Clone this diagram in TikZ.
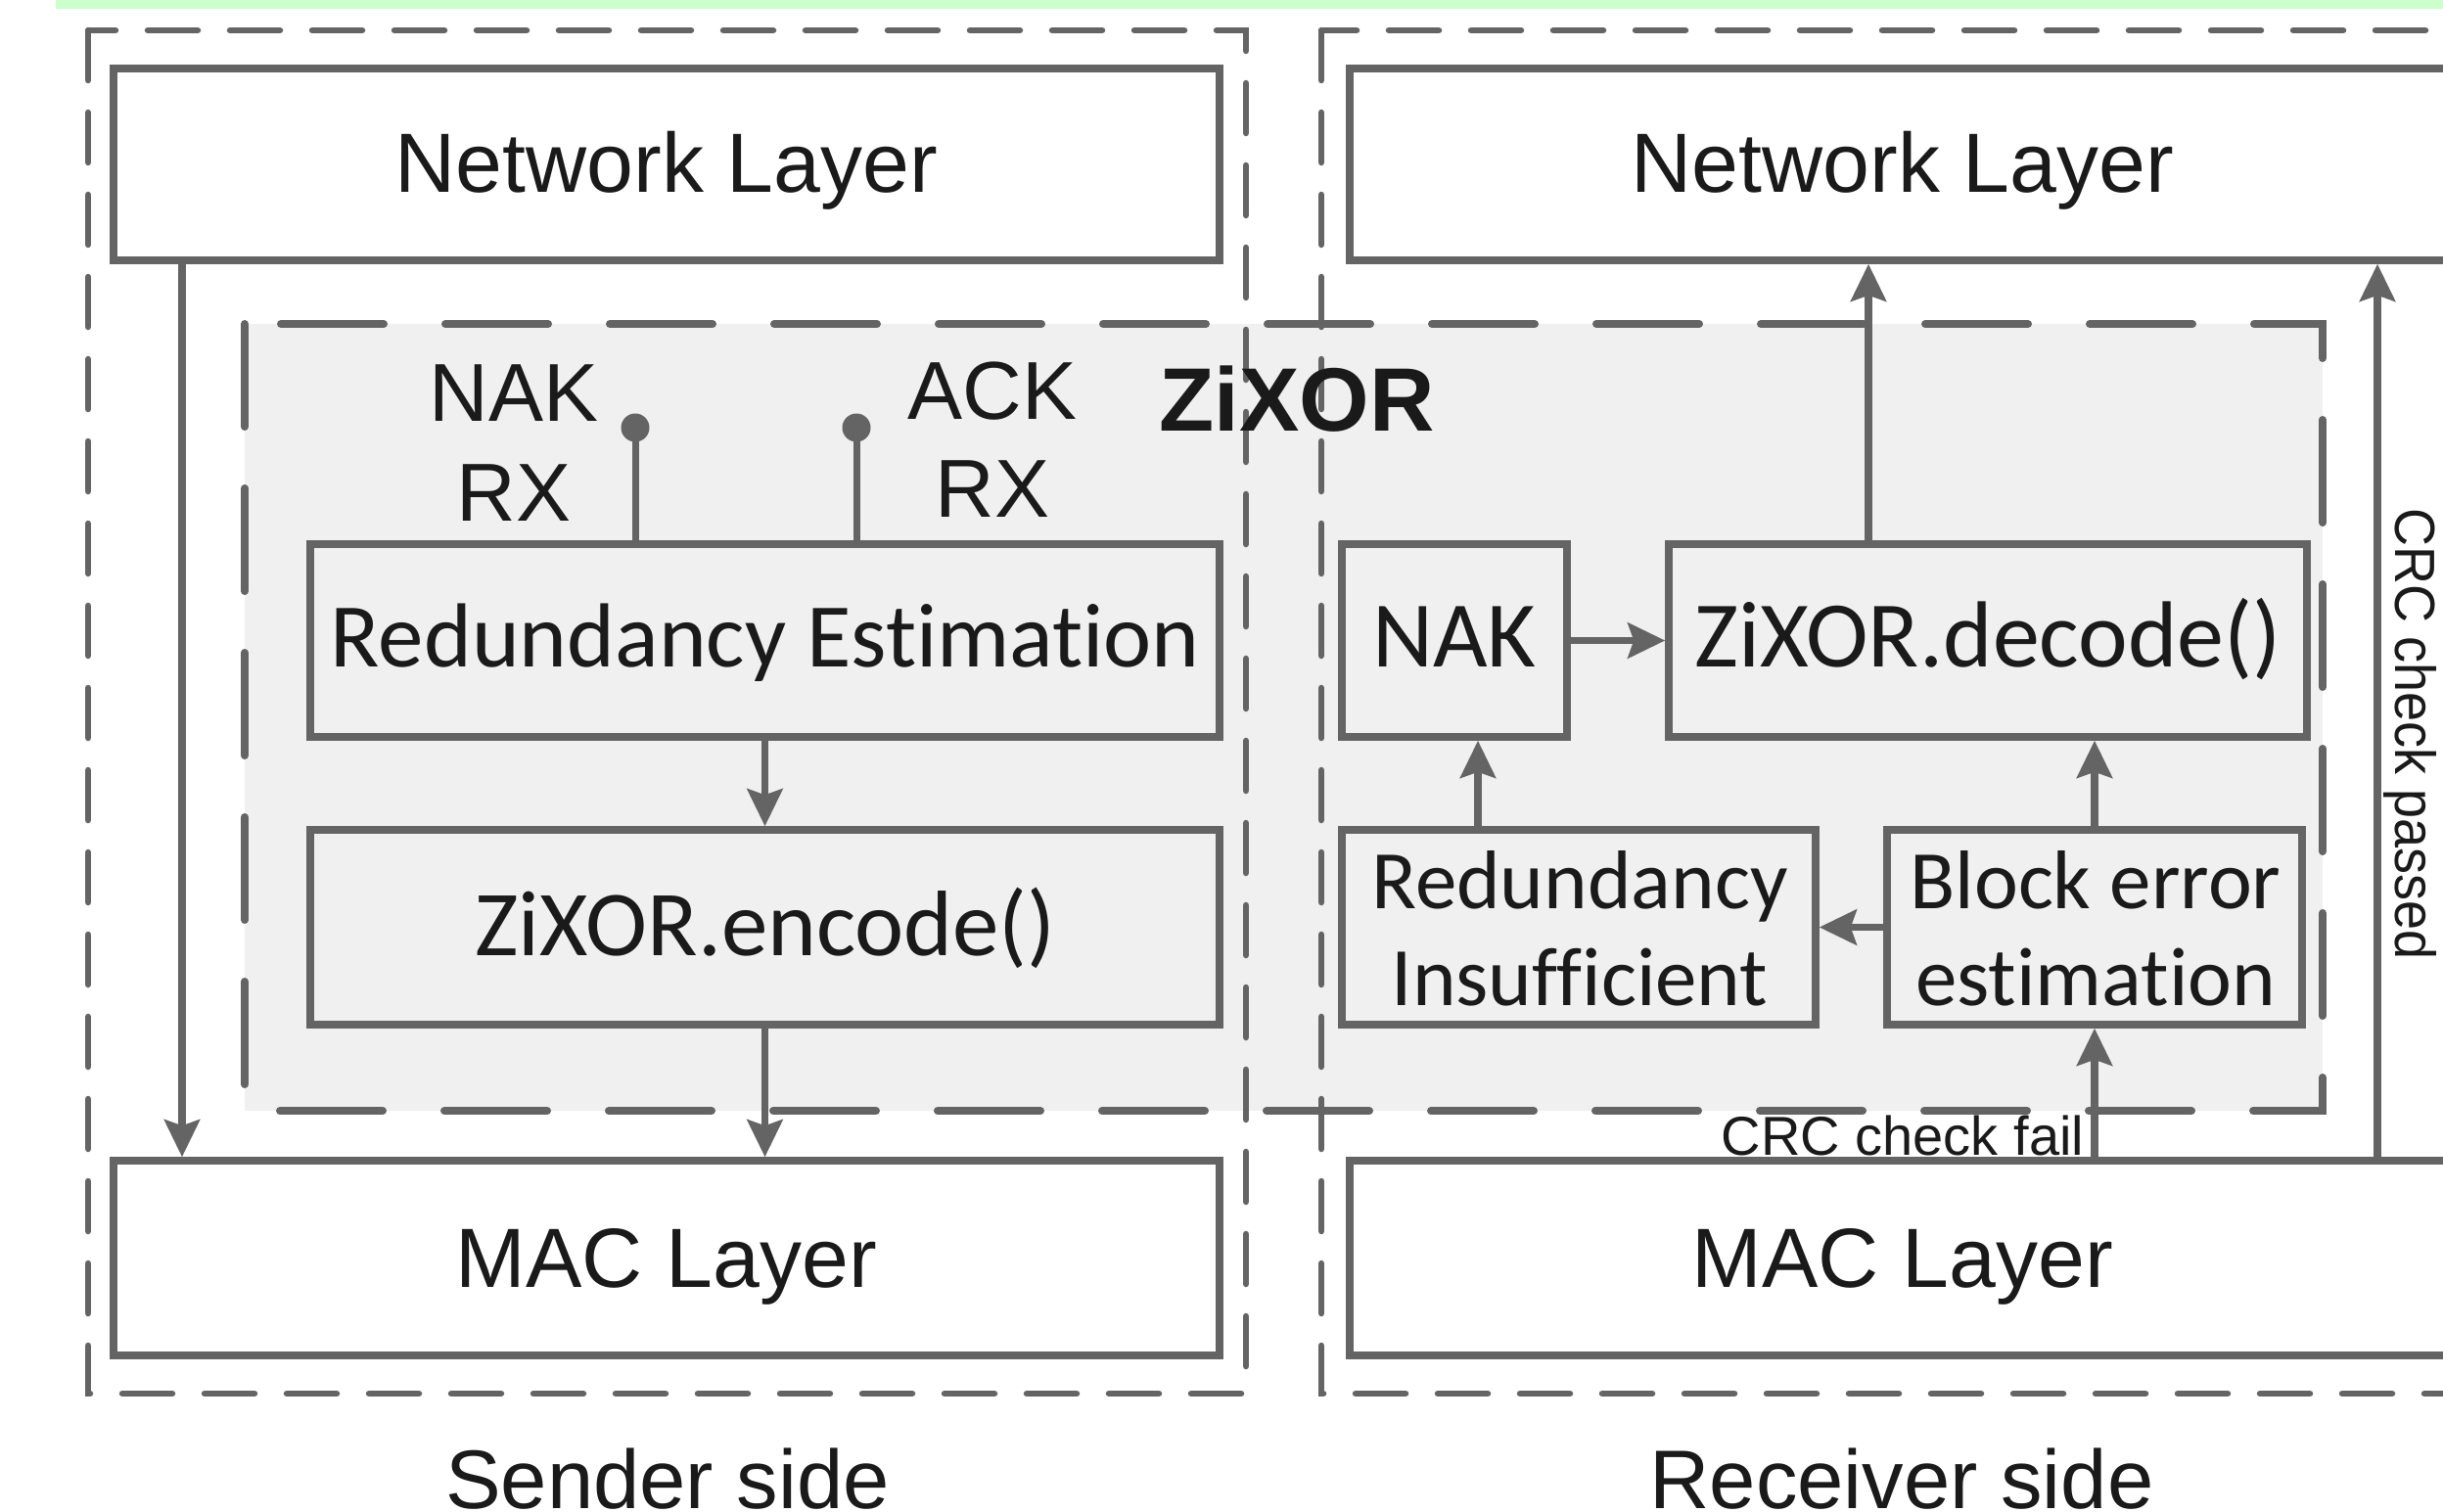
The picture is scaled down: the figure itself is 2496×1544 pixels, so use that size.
\documentclass[tikz,border=0pt]{standalone}
\usepackage{fontspec}
\setmainfont{Liberation Sans}
\newfontfamily\calib[Ligatures=NoCommon]{Carlito}
\usetikzlibrary{arrows.meta}
\definecolor{linec}{HTML}{646464}
\definecolor{regbg}{HTML}{F0F0F0}
\definecolor{grn}{HTML}{CCFFCC}
\definecolor{txt}{HTML}{1A1A1A}
\begin{document}
\begin{tikzpicture}[x=1pt,y=-1pt,
  layerbox/.style={draw=linec, line width=7.5pt, fill=white, minimum width=1130pt, minimum height=196pt, inner sep=0pt},
  procbox/.style={draw=linec, line width=7.5pt, fill=regbg, inner sep=0pt},
  outerdash/.style={draw=linec, line width=6.5pt, line cap=round, dash pattern=on 51pt off 33pt},
  regdash/.style={draw=linec, line width=8pt, line cap=round, dash pattern=on 105pt off 63pt, fill=regbg},
  lbl/.style={inner sep=0pt, text=txt, anchor=base},
  ar/.style={font=\fontsize{#1pt}{#1pt}\selectfont},
  cb/.style={font=\calib\fontsize{#1pt}{#1pt}\selectfont},
  arr/.style={draw=linec, line width=7.5pt, -{Stealth[length=38pt,width=36pt,inset=6pt]}},
  conn/.style={draw=linec, line width=7pt},
  dotn/.style={circle, fill=linec, minimum size=29pt, inner sep=0pt}
]
\useasboundingbox (0,0) rectangle (2496,1544);
\clip (0,0) rectangle (2496,1544);
\fill[white] (0,0) rectangle (2496,1544);
% green strip
\fill[grn] (57,0) rectangle (2496,9);

% ZiXOR region
\path[regdash] (250,331) rectangle (2373,1135);

% outer dashed sides
\draw[outerdash] (90,31) rectangle (1273,1424);
\draw[outerdash] (1350,31) rectangle (2537,1424);

% layer boxes
\node[layerbox] (netS) at (681,168) {};
\node[layerbox] (netR) at (1944,168) {};
\node[layerbox, minimum height=199pt] (macS) at (681,1285.5) {};
\node[layerbox, minimum height=199pt] (macR) at (1944,1285.5) {};

% sender process boxes
\node[procbox, minimum width=929pt, minimum height=197pt] (RE) at (781.5,654.5) {};
\node[procbox, minimum width=929pt, minimum height=199pt] (enc) at (781.5,947.5) {};

% receiver process boxes
\node[procbox, minimum width=230pt, minimum height=197pt] (nak) at (1486,654.5) {};
\node[procbox, minimum width=652pt, minimum height=197pt] (dec) at (2031,654.5) {};
\node[procbox, minimum width=484pt, minimum height=199pt] (RI) at (1613,947.5) {};
\node[procbox, minimum width=424pt, minimum height=199pt] (BE) at (2140,947.5) {};

% texts
\node[lbl, ar=86] (tNetS) at (681,196) {Network Layer};
\node[lbl, ar=86] (tNetR) at (1944,196) {Network Layer};
\node[lbl, ar=86] (tMacS) at (681,1315) {MAC Layer};
\node[lbl, ar=86] (tMacR) at (1944,1315) {MAC Layer};
\node[lbl, cb=93] (tRE) at (782,681) {Redundancy Estimation};
\node[lbl, cb=95] (tEnc) at (782,976) {ZiXOR.encode()};
\node[lbl, cb=96] (tNak) at (1486,681) {NAK};
\node[lbl, cb=96] (tDec) at (2031,681) {ZiXOR.decode()};
\node[lbl, cb=85] (tRI1) at (1614,928) {Redundancy};
\node[lbl, cb=85] (tRI2) at (1614,1027) {Insufficient};
\node[lbl, cb=85] (tBE1) at (2141,928) {Block error};
\node[lbl, cb=85] (tBE2) at (2141,1027) {estimation};
\node[lbl, ar=84] (tNakRx1) at (525,430) {NAK};
\node[lbl, ar=84] (tNakRx2) at (525,532) {RX};
\node[lbl, ar=84] (tAckRx1) at (1014,428) {ACK};
\node[lbl, ar=84] (tAckRx2) at (1014,528) {RX};
\node[lbl, font=\bfseries\fontsize{92pt}{92pt}\selectfont] (tZ) at (1325,440) {ZiXOR};
\node[lbl, ar=56] (tFail) at (1944,1180) {CRC check fail};
\node[lbl, ar=58, rotate=-90] (tPass) at (2447,750) {\scalebox{0.93}[1]{CRC check passed}};
\node[lbl, ar=85] (tSend) at (682,1541) {Sender side};
\node[lbl, ar=85] (tRecv) at (1943,1541) {Receiver side};

% coordinates for off-centre connectors
\coordinate (xs) at (186,0);
\coordinate (xri) at (1510,0);
\coordinate (xdec) at (1909,0);
\coordinate (xpass) at (2429,0);

% sender connectors
\draw[arr] (netS.south -| xs) -- (macS.north -| xs);
\draw[arr] (RE.south) -- (enc.north);
\draw[arr] (enc.south) -- (enc.south |- macS.north);

% NAK/ACK RX inputs
\node[dotn] (nakdot) at (649,437) {};
\node[dotn] (ackdot) at (875,437) {};
\draw[conn] (nakdot.center) -- (nakdot.center |- RE.north);
\draw[conn] (ackdot.center) -- (ackdot.center |- RE.north);

% receiver connectors
\draw[arr] (nak.east) -- (dec.west);
\draw[arr] (RI.north -| xri) -- (nak.south -| xri);
\draw[arr] (BE.north) -- (BE.north |- dec.south);
\draw[arr] (BE.west) -- (RI.east);
\draw[arr] (dec.north -| xdec) -- (netR.south -| xdec);
\draw[arr] (macR.north -| BE.south) -- (BE.south);
\draw[arr] (macR.north -| xpass) -- (netR.south -| xpass);
\end{tikzpicture}
\end{document}
